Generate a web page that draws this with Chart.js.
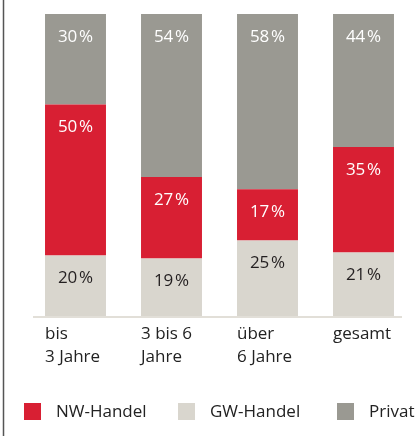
<!DOCTYPE html>
<html>
<head>
<meta charset="utf-8">
<script src="https://cdn.jsdelivr.net/npm/chart.js@4/dist/chart.umd.min.js"></script>
<style>
  html, body { margin: 0; padding: 0; background: #fff; }
  #wrap { position: relative; width: 415px; height: 436px; }
</style>
</head>
<body>
<div id="wrap"><canvas id="chart" width="415" height="436"></canvas></div>
<script>
// categories (multi-line labels)
const categories = [['bis', '3 Jahre'], ['3 bis 6', 'Jahre'], ['über', '6 Jahre'], ['gesamt']];

// shares in percent, stacked bottom -> top: GW, NW, Privat
const gwHandel = [20, 19, 25, 21];
const nwHandel = [50, 27, 17, 35];
const privat = [30, 54, 58, 44];

const FONT = '"Open Sans", "Noto Sans", sans-serif';
const RED = '#d81f33';
const BEIGE = '#d9d6ce';
const GREY = '#9a9992';

// value labels near the top of each segment
const segmentLabels = {
  id: 'segmentLabels',
  afterDatasetsDraw(chart) {
    const ctx = chart.ctx;
    ctx.save();
    ctx.font = '17px ' + FONT;
    ctx.textAlign = 'center';
    ctx.textBaseline = 'middle';
    chart.data.datasets.forEach((ds, i) => {
      const meta = chart.getDatasetMeta(i);
      meta.data.forEach((bar, j) => {
        ctx.fillStyle = ds.labelColor;
        ctx.fillText(ds.data[j] + '\u200A%', bar.x, bar.y + 23);
      });
    });
    ctx.restore();
  }
};

// baseline, frame line and legend
const decorations = {
  id: 'decorations',
  afterDraw(chart) {
    const ctx = chart.ctx;
    const area = chart.chartArea;
    ctx.save();
    // baseline
    ctx.strokeStyle = '#e2dfd8';
    ctx.lineWidth = 2;
    ctx.beginPath();
    ctx.moveTo(33, area.bottom + 1);
    ctx.lineTo(402, area.bottom + 1);
    ctx.stroke();
    // left frame line
    ctx.strokeStyle = '#555';
    ctx.lineWidth = 1.5;
    ctx.beginPath();
    ctx.moveTo(3.5, 0);
    ctx.lineTo(3.5, 436);
    ctx.stroke();
    // legend
    const order = [1, 0, 2];
    const boxX = [24, 178, 337];
    ctx.font = '17px ' + FONT;
    ctx.textBaseline = 'middle';
    ctx.textAlign = 'left';
    order.forEach((di, k) => {
      const ds = chart.data.datasets[di];
      ctx.fillStyle = ds.backgroundColor;
      ctx.fillRect(boxX[k], 403, 17, 17);
      ctx.fillStyle = '#222';
      ctx.fillText(ds.label, boxX[k] + 32, 412);
    });
    ctx.restore();
  }
};

new Chart(document.getElementById('chart'), {
  type: 'bar',
  data: {
    labels: categories,
    datasets: [
      { label: 'GW-Handel', data: gwHandel, backgroundColor: BEIGE, labelColor: '#231f20' },
      { label: 'NW-Handel', data: nwHandel, backgroundColor: RED, labelColor: '#ffffff' },
      { label: 'Privat', data: privat, backgroundColor: GREY, labelColor: '#ffffff' }
    ]
  },
  options: {
    responsive: false,
    animation: false,
    devicePixelRatio: 1,
    layout: { padding: { top: 14, left: 27.5, right: 3.5, bottom: 0 } },
    datasets: {
      bar: { categoryPercentage: 1, barPercentage: 0.635, borderWidth: 0 }
    },
    plugins: {
      legend: { display: false },
      tooltip: { enabled: false }
    },
    scales: {
      x: {
        stacked: true,
        grid: { display: false, drawTicks: false },
        border: { display: false },
        afterFit(scale) {
          scale.height = 120;
          scale.paddingLeft = 0;
          scale.paddingRight = 0;
        },
        ticks: {
          align: 'start',
          labelOffset: -30.5,
          padding: 7,
          color: '#222',
          font: { family: FONT, size: 17, lineHeight: 1.35 },
          maxRotation: 0,
          autoSkip: false
        }
      },
      y: {
        stacked: true,
        display: false,
        min: 0,
        max: 100
      }
    }
  },
  plugins: [segmentLabels, decorations]
});
</script>
</body>
</html>
